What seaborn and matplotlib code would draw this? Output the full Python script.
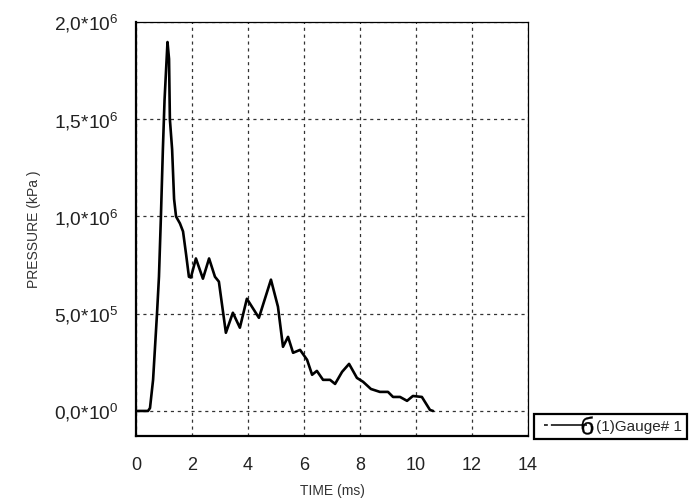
import matplotlib
matplotlib.use("Agg")
import matplotlib.pyplot as plt
from matplotlib.lines import Line2D
from matplotlib.legend_handler import HandlerLine2D
import numpy as np
import seaborn as sns

# pressure trace
time_ms = [0.0, 0.43, 0.5, 0.61, 0.75, 0.82, 0.89, 0.96, 1.02, 1.125,
           1.18, 1.21, 1.29, 1.36, 1.43, 1.57, 1.68, 1.79, 1.89, 1.96,
           2.14, 2.39, 2.61, 2.82, 2.96, 3.21, 3.46, 3.71, 3.96, 4.39,
           4.82, 5.07, 5.25, 5.43, 5.61, 5.86, 6.11, 6.29, 6.46, 6.68,
           6.93, 7.11, 7.36, 7.61, 7.89, 8.11, 8.39, 8.71, 9.0, 9.18,
           9.43, 9.68, 9.89, 10.21, 10.5, 10.61]
pressure_kpa = [0, 0, 15000, 160000, 500000, 690000, 1.0e6, 1.345e6, 1.6e6, 1.897e6,
                1.81e6, 1.5e6, 1.345e6, 1.09e6, 1.0e6, 964000, 923000, 804000, 690000, 686000,
                784000, 680000, 784000, 690000, 665000, 402000, 505000, 428000, 577000, 479000,
                675000, 536000, 330000, 381000, 299000, 314000, 263000, 186000, 206000, 160000,
                160000, 139000, 201000, 242000, 170000, 150000, 113000, 98000, 98000, 72000,
                72000, 52000, 77000, 72000, 5000, 0]

x_ticks = [0, 2, 4, 6, 8, 10, 12, 14]
y_ticks = [0, 5e5, 1e6, 1.5e6, 2e6]
y_tick_labels = [r"$\mathregular{0{,}0{*}10^{0}}$", r"$\mathregular{5{,}0{*}10^{5}}$",
                 r"$\mathregular{1{,}0{*}10^{6}}$", r"$\mathregular{1{,}5{*}10^{6}}$",
                 r"$\mathregular{2{,}0{*}10^{6}}$"]
series_label = "(1)Gauge# 1"


class EndMarkerHandler(HandlerLine2D):
    # symbol only at the right end of the legend line
    def create_artists(self, *args, **kwargs):
        artists = super().create_artists(*args, **kwargs)
        for a in artists:
            a.set_markevery([1])
        return artists


sns.set_style("white")
plt.rcParams["font.family"] = ["Liberation Sans", "DejaVu Sans"]
plt.rcParams["mathtext.fontset"] = "custom"
plt.rcParams["mathtext.rm"] = "Liberation Sans"

fig = plt.figure(figsize=(6.9, 5.01), dpi=100)
ax = fig.add_axes([0.1971, 0.1297, 0.5681, 0.8264])

sns.lineplot(x=time_ms, y=pressure_kpa, ax=ax, color="black", lw=1.9,
             estimator=None, sort=False)

ax.set_xlim(0, 14)
ax.set_ylim(-128900, 2.0e6)
ax.set_xticks(x_ticks)
ax.set_yticks(y_ticks)
ax.set_yticklabels(y_tick_labels)
ax.tick_params(axis="both", direction="out", color="black", width=1.5,
               labelcolor="#222222")
ax.tick_params(axis="y", length=10, pad=3, labelsize=13.8)
ax.tick_params(axis="x", length=9, pad=6, labelsize=13)
ax.grid(True, color="#333333", linestyle=(0, (2.5, 3)), lw=0.9)

for side in ["left", "bottom"]:
    ax.spines[side].set_linewidth(1.6)
    ax.spines[side].set_color("black")
for side in ["top", "right"]:
    ax.spines[side].set_linewidth(0.9)
    ax.spines[side].set_color("black")

ax.set_xlabel("TIME (ms)", fontsize=10, color="#333333", labelpad=7)
ax.set_ylabel("PRESSURE (kPa )", fontsize=10, color="#333333", labelpad=9)

handle = Line2D([], [], color="black", lw=1.1, linestyle=(0, (2.5, 2, 30, 0)),
                marker=r"$\mathregular{б}$", markersize=13, markeredgewidth=0.2)
leg = ax.legend([handle], [series_label], loc="lower left",
                bbox_to_anchor=(1.015, -0.007), frameon=True, fancybox=False,
                edgecolor="black", framealpha=1, fontsize=11, numpoints=2,
                handlelength=3.4, handletextpad=0.3, borderaxespad=0,
                borderpad=0.35, handler_map={Line2D: EndMarkerHandler()})
leg.get_frame().set_linewidth(1.6)

fig.savefig("out.png", dpi=100)
